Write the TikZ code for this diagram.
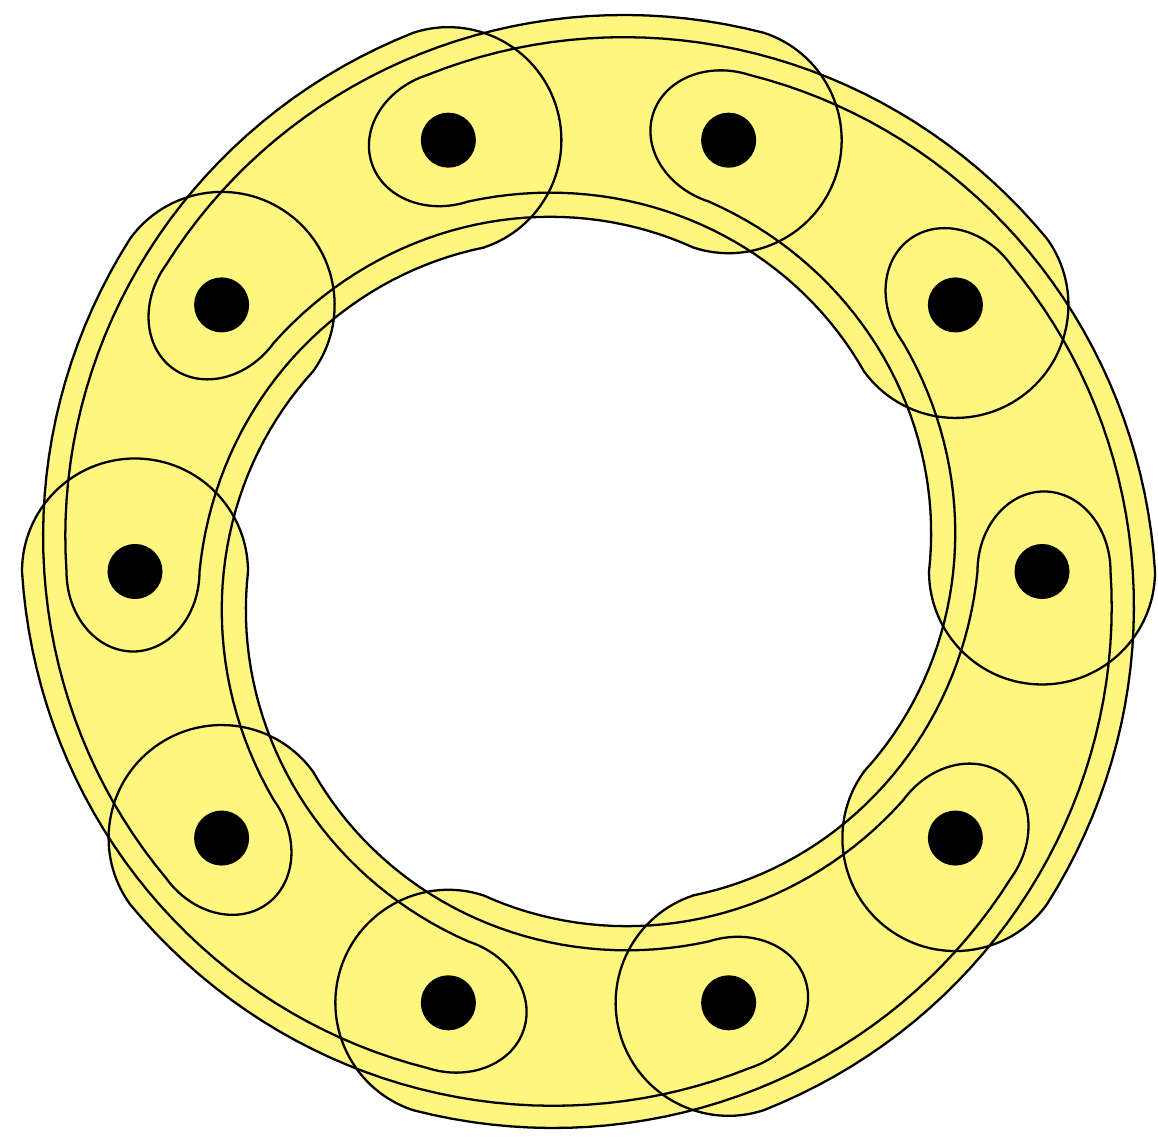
\documentclass[tikz,border=0pt]{standalone}
\usepackage{xcolor}
\usepackage{tikz}
\definecolor{hYellow}{HTML}{FFF680}
\definecolor{hInk}{HTML}{000000}
\tikzset{
  hedgefill/.style={fill=hYellow, draw=none},
  hedgeline/.style={draw=hInk, line width=0.65pt},
  vertex/.style={circle, fill=hInk, draw=none, inner sep=0pt, minimum size=0.55cm},
}
% one hyperedge of three consecutive vertices, start vertex on the x axis
\newcommand{\hedgeshape}{
  plot[domain=0:72, samples=37] (-\x:{522+0.618*\x})
  arc[start angle=-72, end angle=-252, radius=113]
  -- plot[domain=72:0, samples=37] (-\x:{389-0.674*\x})
  arc[start angle=180, end angle=0, x radius=66.5, y radius=80] -- cycle}

\begin{document}
\begin{tikzpicture}[x=0.01cm, y=0.01cm]
  \useasboundingbox (0,0) rectangle (1158,1143);
  \coordinate (o) at (588.5,571.5);
  % hyperedges: all fills first, then all outlines
  \foreach \a in {0,36,...,324}
    \path[hedgefill, shift={(o)}, rotate=\a] \hedgeshape;
  \foreach \a in {0,36,...,324}
    \path[hedgeline, shift={(o)}, rotate=\a] \hedgeshape;
  % vertices
  \begin{scope}[shift={(o)}]
    \node[vertex] (v0) at (0:453.5) {};
    \node[vertex] (v1) at (36:453.5) {};
    \node[vertex] (v2) at (72:453.5) {};
    \node[vertex] (v3) at (108:453.5) {};
    \node[vertex] (v4) at (144:453.5) {};
    \node[vertex] (v5) at (180:453.5) {};
    \node[vertex] (v6) at (216:453.5) {};
    \node[vertex] (v7) at (252:453.5) {};
    \node[vertex] (v8) at (288:453.5) {};
    \node[vertex] (v9) at (324:453.5) {};
  \end{scope}
\end{tikzpicture}
\end{document}
